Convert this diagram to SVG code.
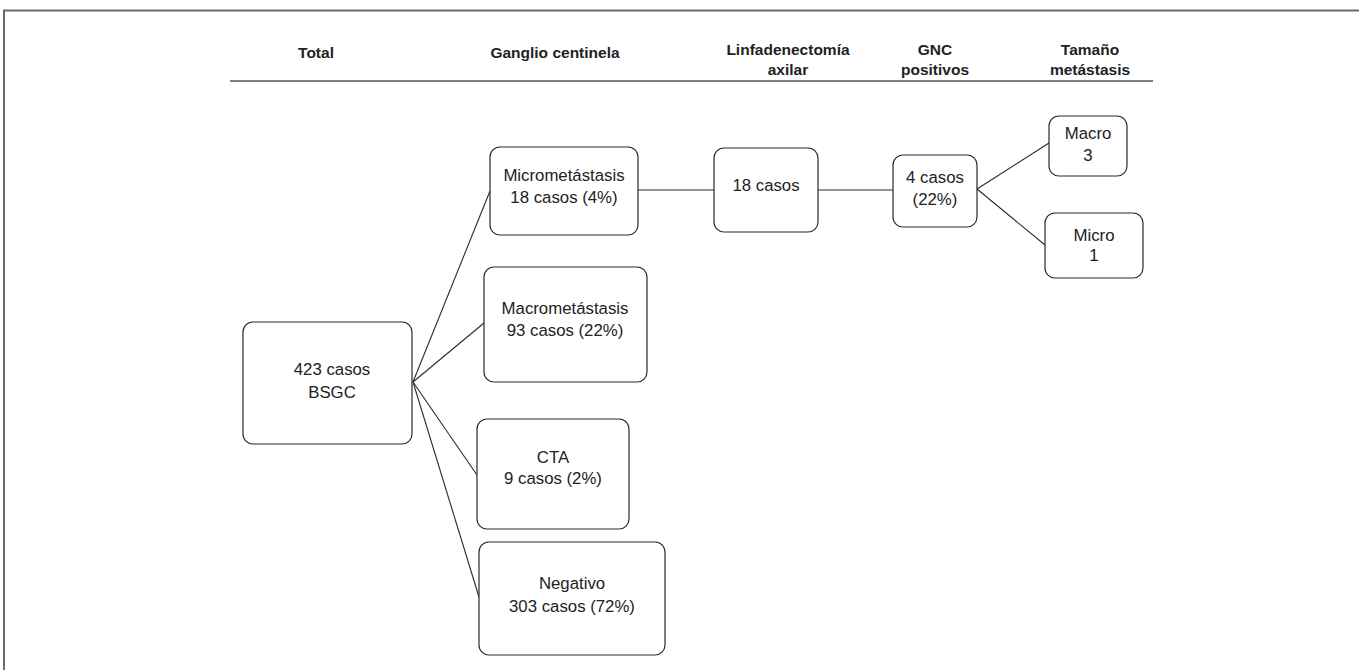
<svg xmlns="http://www.w3.org/2000/svg" width="1359" height="670" viewBox="0 0 1359 670">
<style>
.box{fill:#fff;stroke:#2a2a2a;stroke-width:1.2}
.t{font-family:"Liberation Sans",Arial,sans-serif;font-size:16.8px;fill:#222;text-anchor:middle}
.h{font-family:"Liberation Sans",Arial,sans-serif;font-size:15.5px;font-weight:bold;fill:#222;text-anchor:middle}
.c{stroke:#2a2a2a;stroke-width:1.1;fill:none}
</style>
<rect width="1359" height="670" fill="#fff"/>
<g id="frame">
<path d="M4,670 V10.5 H1359" fill="none" stroke="#6a6a6a" stroke-width="2"/>
</g>
<g id="header">
<text class="h" x="316" y="58">Total</text>
<text class="h" x="555" y="58">Ganglio centinela</text>
<text class="h" x="788" y="55">Linfadenectomía</text>
<text class="h" x="788" y="75">axilar</text>
<text class="h" x="935" y="55">GNC</text>
<text class="h" x="935" y="75">positivos</text>
<text class="h" x="1090" y="55">Tamaño</text>
<text class="h" x="1090" y="75">metástasis</text>
<line x1="230" y1="81" x2="1153" y2="81" stroke="#555" stroke-width="1.3"/>
</g>
<g id="connectors">
<line class="c" x1="413" y1="382" x2="490" y2="191"/>
<line class="c" x1="413" y1="382" x2="484" y2="323"/>
<line class="c" x1="413" y1="382" x2="477" y2="475"/>
<line class="c" x1="413" y1="382" x2="479" y2="597"/>
<line class="c" x1="638" y1="190" x2="714" y2="190"/>
<line class="c" x1="818" y1="190" x2="893" y2="190"/>
<line class="c" x1="977" y1="189" x2="1049" y2="143"/>
<line class="c" x1="977" y1="189" x2="1045" y2="245"/>
</g>
<g id="total">
<rect class="box" x="243" y="322" width="169" height="122" rx="10"/>
<text class="t" x="332" y="375">423 casos</text>
<text class="t" x="332" y="398">BSGC</text>
</g>
<g id="micrometastasis">
<rect class="box" x="490" y="147" width="148" height="88" rx="10"/>
<text class="t" x="564" y="181">Micrometástasis</text>
<text class="t" x="564" y="203">18 casos (4%)</text>
</g>
<g id="macrometastasis">
<rect class="box" x="484" y="267" width="163" height="115" rx="10"/>
<text class="t" x="565" y="314">Macrometástasis</text>
<text class="t" x="565" y="336">93 casos (22%)</text>
</g>
<g id="cta">
<rect class="box" x="477" y="419" width="152" height="110" rx="10"/>
<text class="t" x="553" y="463">CTA</text>
<text class="t" x="553" y="484">9 casos (2%)</text>
</g>
<g id="negativo">
<rect class="box" x="479" y="542" width="186" height="113" rx="10"/>
<text class="t" x="572" y="589">Negativo</text>
<text class="t" x="572" y="612">303 casos (72%)</text>
</g>
<g id="linfadenectomia">
<rect class="box" x="714" y="148" width="104" height="84" rx="10"/>
<text class="t" x="766" y="191">18 casos</text>
</g>
<g id="gnc">
<rect class="box" x="893" y="155" width="84" height="72" rx="10"/>
<text class="t" x="935" y="183">4 casos</text>
<text class="t" x="935" y="205">(22%)</text>
</g>
<g id="macro">
<rect class="box" x="1049" y="116" width="78" height="60" rx="10"/>
<text class="t" x="1088" y="139">Macro</text>
<text class="t" x="1088" y="161">3</text>
</g>
<g id="micro">
<rect class="box" x="1045" y="213" width="98" height="65" rx="10"/>
<text class="t" x="1094" y="241">Micro</text>
<text class="t" x="1094" y="261">1</text>
</g>
</svg>
